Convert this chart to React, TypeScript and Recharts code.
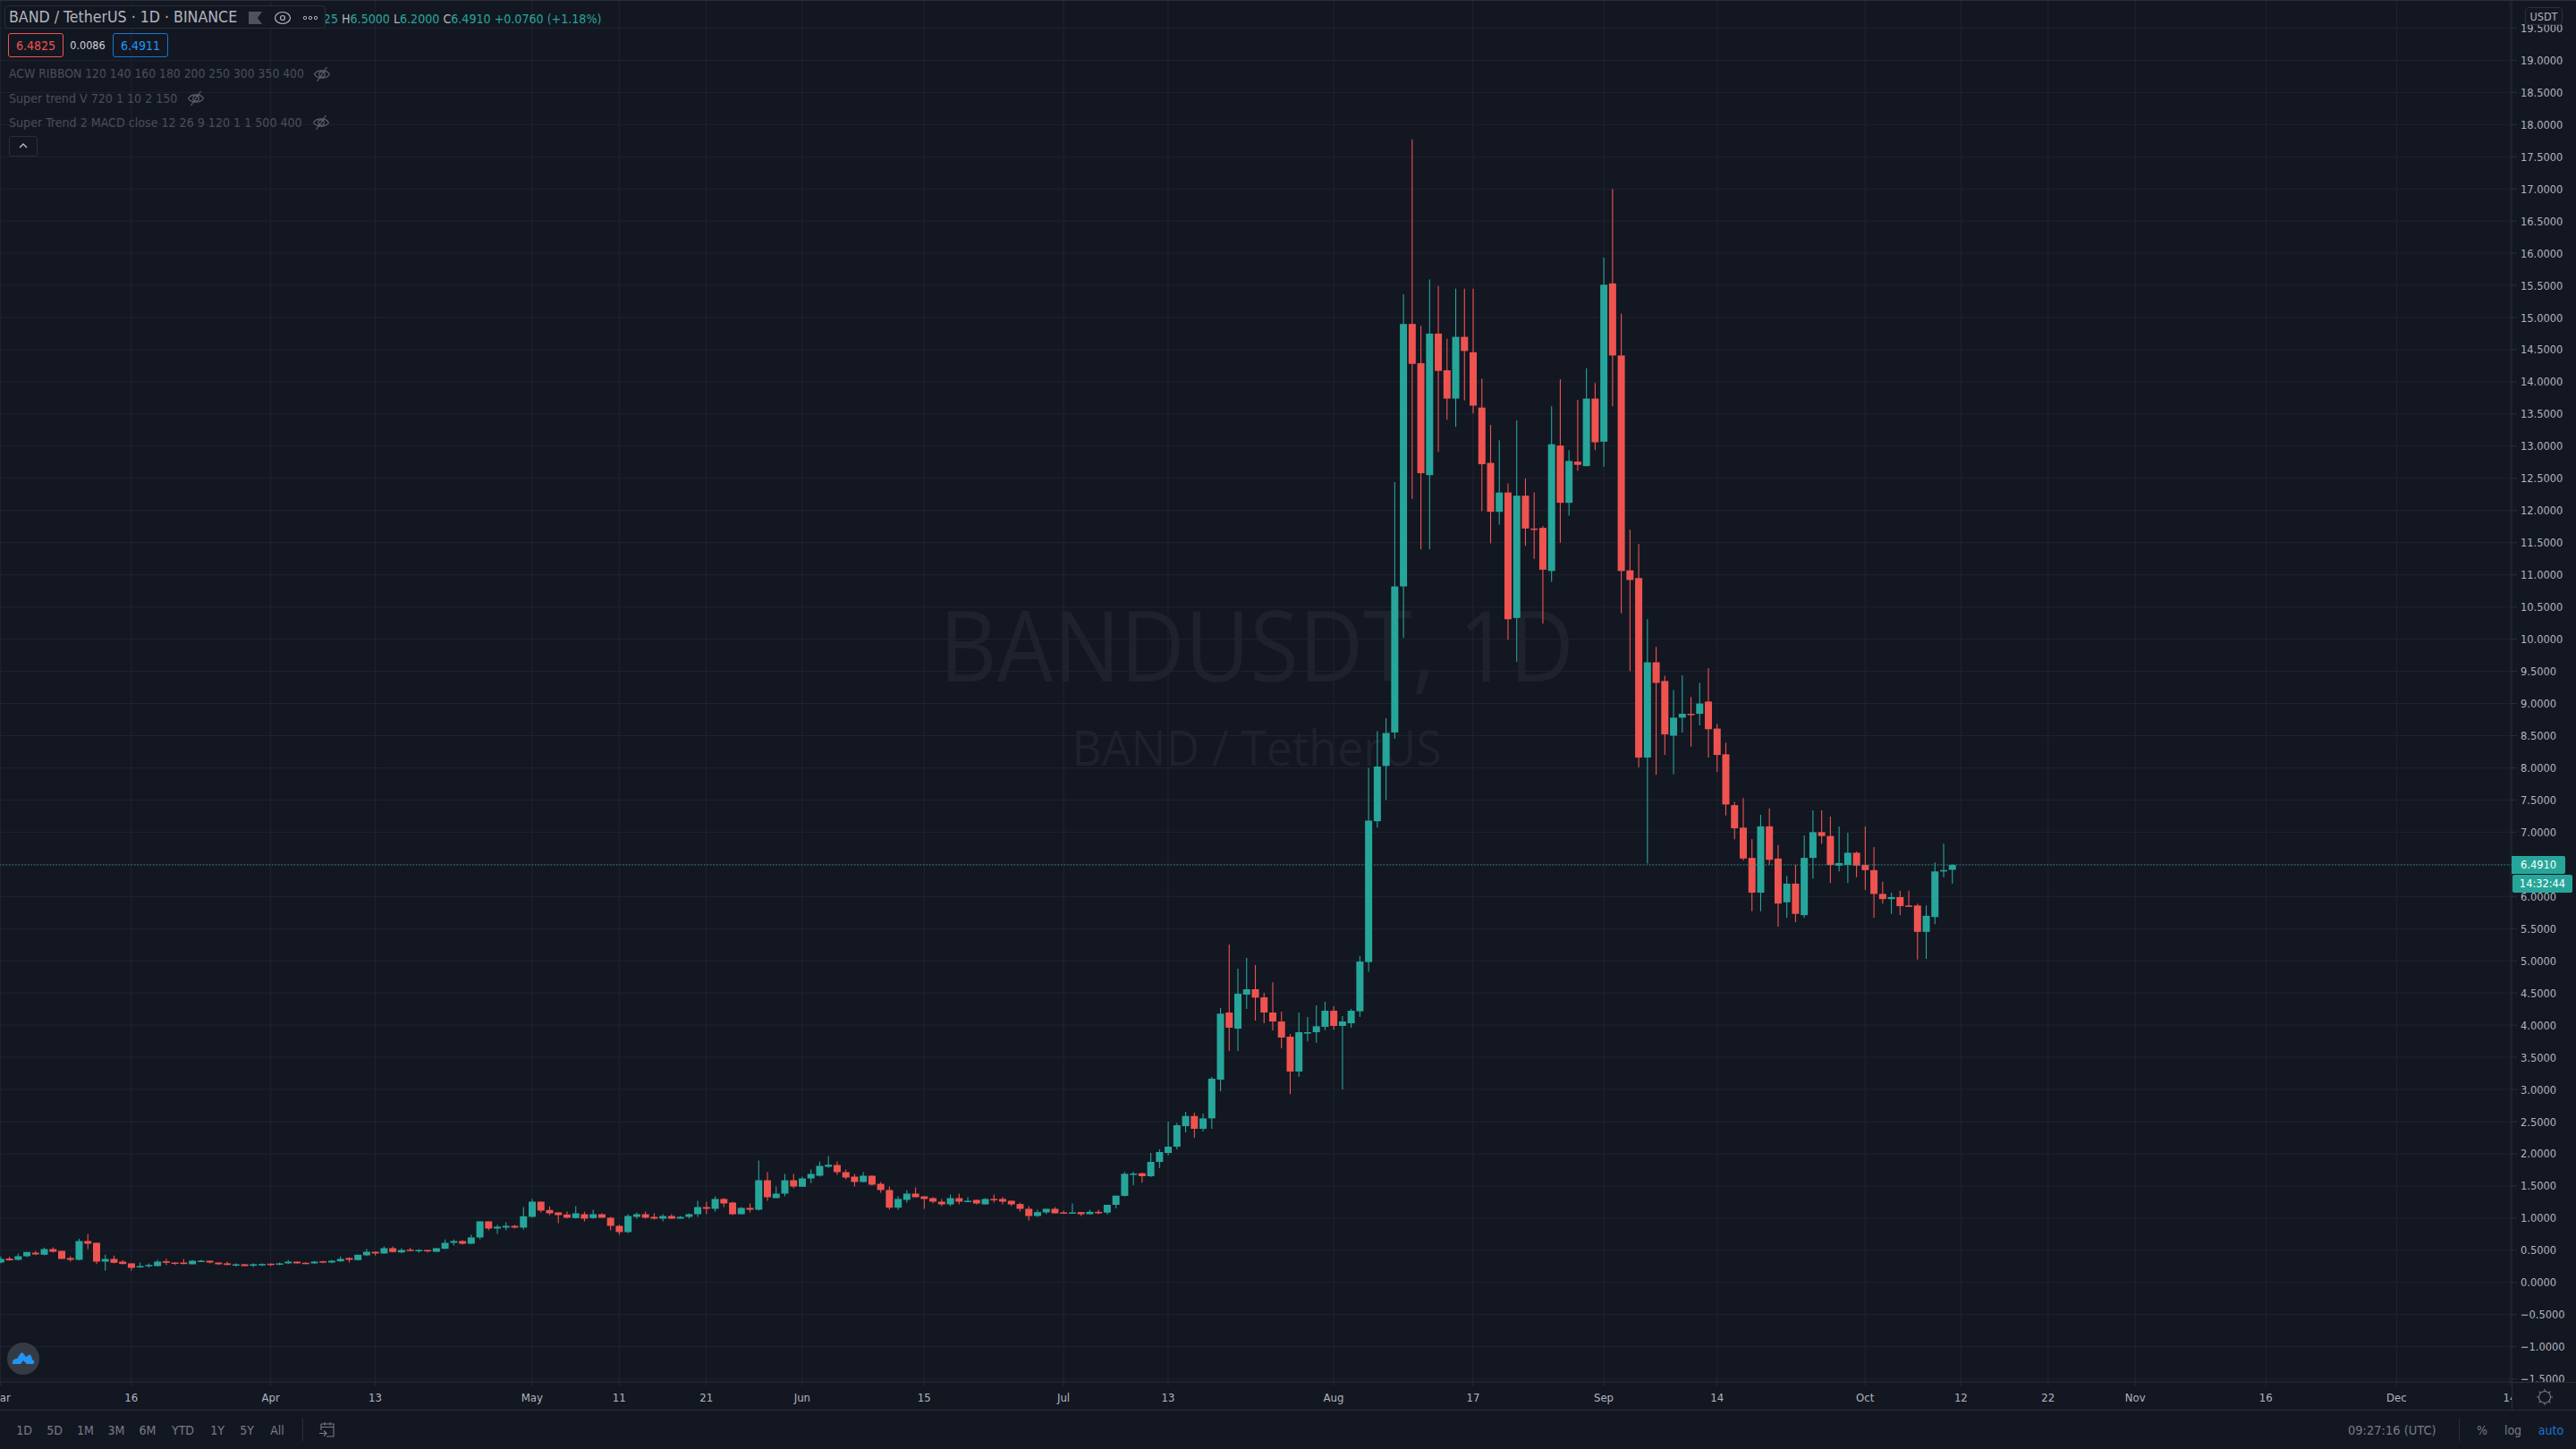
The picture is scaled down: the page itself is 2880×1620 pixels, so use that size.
import React from "react";
import { ComposedChart, Bar, XAxis, YAxis, CartesianGrid, ReferenceLine } from "recharts";

const opens = [
  .31,.371,.352,.408,.463,.431,.519,.491,.38,.352,
  .644,.616,.324,.366,.324,.297,.236,.26,.255,.329,
  .31,.31,.283,.324,.338,.31,.297,.273,.283,.26,
  .273,.292,.283,.297,.324,.306,.297,.329,.31,.329,
  .38,.348,.422,.477,.45,.533,.468,.51,.491,.505,
  .477,.524,.616,.644,.602,.70,.95,.839,.853,.88,
  .853,1.02,1.256,1.126,1.089,1.057,1.001,1.061,1.001,1.061,
  1.006,.88,.783,1.02,1.061,1.02,.992,1.033,.992,1.02,
  1.061,1.172,1.145,1.298,1.242,1.061,1.159,1.131,1.589,1.311,
  1.381,1.589,1.488,1.617,1.659,1.798,1.826,1.715,1.645,1.562,
  1.659,1.534,1.437,1.163,1.284,1.381,1.339,1.311,1.256,1.214,
  1.311,1.256,1.284,1.214,1.298,1.298,1.27,1.219,1.145,1.033,
  1.089,1.145,1.089,1.075,1.094,1.061,1.098,1.086,1.207,1.346,
  1.68,1.698,1.652,1.874,2.013,2.111,2.43,2.588,2.389,2.551,
  3.153,4.196,3.946,4.474,4.558,4.433,4.196,4.057,3.82,3.279,
  3.872,3.89,3.974,4.224,3.988,4.029,4.215,4.98,7.17,8.03,
  8.55,10.82,14.9,14.29,12.55,14.75,14.18,13.74,14.70,14.46,
  13.60,12.74,11.98,12.28,10.33,12.23,11.72,11.73,11.06,13.01,
  12.12,12.76,12.69,13.74,13.07,15.53,14.41,11.07,10.95,8.16,
  9.64,9.35,8.50,8.78,8.84,8.84,9.03,8.61,8.21,7.42,
  7.07,6.60,6.06,7.09,6.59,5.91,6.20,5.71,6.60,7.00,
  6.94,6.48,6.49,6.68,6.49,6.41,6.04,5.96,5.99,5.86,
  5.86,5.45,5.68,6.39,6.415,
];
const highs = [
  .403,.399,.45,.477,.491,.542,.547,.491,.403,.681,
  .755,.616,.431,.417,.348,.297,.31,.297,.352,.366,
  .31,.366,.348,.352,.338,.31,.324,.297,.287,.297,
  .297,.297,.31,.348,.324,.315,.334,.338,.348,.403,
  .389,.431,.519,.477,.561,.561,.533,.538,.519,.505,
  .533,.667,.667,.658,.741,.95,.95,.894,.936,.894,
  1.172,1.298,1.256,1.182,1.089,1.103,1.186,1.098,1.131,1.075,
  1.02,.899,1.061,1.089,1.103,1.075,1.061,1.061,1.033,1.075,
  1.27,1.256,1.339,1.311,1.256,1.172,1.228,1.895,1.715,1.492,
  1.687,1.687,1.645,1.756,1.881,1.965,1.881,1.756,1.687,1.715,
  1.659,1.562,1.492,1.339,1.437,1.478,1.339,1.325,1.298,1.367,
  1.381,1.325,1.284,1.311,1.367,1.325,1.27,1.242,1.186,1.131,
  1.145,1.172,1.117,1.228,1.094,1.131,1.131,1.207,1.35,1.717,
  1.721,1.707,2.013,2.069,2.5,2.481,2.652,2.639,2.625,3.195,
  4.266,5.252,4.878,5.044,4.934,4.502,4.664,4.21,3.862,4.196,
  4.127,4.307,4.363,4.294,4.141,4.252,5.072,8.0,8.57,8.77,
  12.44,15.36,17.77,14.87,15.59,15.49,14.67,15.45,15.45,15.45,
  14.05,13.33,13.09,12.42,13.40,12.50,12.28,11.76,13.62,14.04,
  12.94,13.72,14.21,13.98,15.93,17.0,15.06,11.70,11.48,10.31,
  9.88,9.43,9.21,9.44,9.10,9.32,9.55,8.68,8.39,7.47,
  7.53,6.89,7.27,7.37,6.80,6.32,6.49,6.95,7.34,7.34,
  7.24,7.09,6.99,6.70,7.09,6.77,6.23,6.06,6.09,6.09,
  5.89,5.86,6.53,6.82,6.5,
];
const lows = [
  .301,.343,.343,.394,.426,.422,.468,.366,.324,.343,
  .519,.287,.185,.297,.283,.185,.227,.232,.25,.269,
  .273,.283,.283,.32,.297,.273,.264,.246,.255,.241,
  .255,.255,.269,.287,.297,.287,.287,.301,.301,.32,
  .31,.343,.412,.417,.45,.468,.454,.487,.463,.468,
  .477,.519,.575,.589,.602,.672,.811,.755,.811,.839,
  .825,1.01,1.089,1.047,.922,.996,.992,.95,.992,1.006,
  .811,.741,.769,.992,.992,.978,.95,.987,.992,.992,
  1.02,1.061,1.103,1.172,1.047,1.061,1.089,1.117,1.27,1.311,
  1.339,1.464,1.488,1.543,1.645,1.784,1.673,1.603,1.492,1.557,
  1.506,1.395,1.131,1.131,1.242,1.325,1.145,1.233,1.186,1.186,
  1.214,1.256,1.214,1.214,1.242,1.214,1.186,1.103,.964,1.02,
  1.061,1.075,1.075,1.075,1.033,1.061,1.061,1.058,1.151,1.337,
  1.513,1.55,1.638,1.777,1.976,2.069,2.333,2.25,2.347,2.389,
  2.972,3.598,3.598,4.252,4.071,4.029,3.918,3.64,2.926,3.195,
  3.747,3.728,3.922,3.928,3.0,3.96,4.127,4.83,7.07,7.5,
  8.45,10.02,12.18,11.40,11.40,12.91,13.41,13.30,13.71,13.51,
  11.99,11.49,11.78,9.99,9.65,11.45,11.25,10.24,10.89,11.50,
  11.92,12.62,12.69,12.94,12.68,13.62,10.40,9.50,8.01,6.51,
  7.89,8.20,7.90,8.55,8.33,8.66,8.16,7.94,7.26,6.89,
  6.56,5.77,5.77,6.49,5.53,5.67,5.60,5.67,6.28,6.82,
  6.21,6.39,6.21,6.30,6.10,5.67,5.89,5.73,5.71,5.84,
  5.02,5.03,5.57,6.30,6.2,
];
const closes = [
  .366,.343,.408,.473,.436,.519,.477,.366,.352,.644,
  .602,.324,.366,.306,.287,.227,.255,.273,.324,.306,
  .292,.287,.338,.338,.31,.283,.273,.283,.255,.283,
  .287,.273,.297,.324,.297,.292,.324,.31,.338,.366,
  .352,.431,.477,.45,.533,.473,.505,.491,.505,.491,
  .533,.616,.644,.602,.70,.95,.839,.867,.88,.853,
  1.029,1.256,1.117,1.075,1.047,1.006,1.075,.992,1.061,1.006,
  .88,.783,1.033,1.061,1.006,.992,1.033,.992,1.02,1.061,
  1.172,1.145,1.298,1.228,1.061,1.159,1.131,1.589,1.325,1.381,
  1.589,1.492,1.617,1.687,1.812,1.83,1.715,1.631,1.562,1.659,
  1.52,1.437,1.163,1.298,1.381,1.325,1.298,1.256,1.214,1.311,
  1.256,1.27,1.228,1.298,1.288,1.256,1.214,1.145,1.033,1.094,
  1.145,1.075,1.075,1.089,1.061,1.098,1.075,1.207,1.35,1.689,
  1.693,1.652,1.874,2.027,2.111,2.444,2.588,2.389,2.551,3.167,
  4.178,3.96,4.488,4.558,4.428,4.196,4.057,3.807,3.279,3.89,
  3.89,3.983,4.224,3.988,4.057,4.224,4.989,7.18,8.02,8.54,
  10.82,14.90,14.28,12.58,14.75,14.17,13.74,14.70,14.48,13.63,
  12.72,11.98,12.28,10.31,12.23,11.72,11.70,11.08,13.03,12.12,
  12.77,12.71,13.74,13.06,15.51,14.41,11.06,10.92,8.16,9.64,
  9.32,8.52,8.78,8.84,8.82,9.0,8.60,8.20,7.43,7.06,
  6.59,6.06,7.09,6.57,5.89,6.20,5.73,6.60,7.00,6.94,
  6.49,6.52,6.68,6.48,6.41,6.04,5.96,5.99,5.85,5.85,
  5.45,5.70,6.39,6.41,6.491,
];

const timeTicks = [0, 15, 31, 43, 61, 71, 81, 92, 106, 122, 134, 153, 169, 184, 197, 214, 225, 235, 245, 260, 275, 288];
const timeLabels = ["Mar", "16", "Apr", "13", "May", "11", "21", "Jun", "15", "Jul", "13", "Aug", "17", "Sep", "14", "Oct", "12", "22", "Nov", "16", "Dec", "14"];
const priceTicks = [-1.5, -1, -0.5, 0, 0.5, 1, 1.5, 2, 2.5, 3, 3.5, 4, 4.5, 5, 5.5, 6, 6.5, 7, 7.5, 8, 8.5, 9, 9.5, 10, 10.5, 11, 11.5, 12, 12.5, 13, 13.5, 14, 14.5, 15, 15.5, 16, 16.5, 17, 17.5, 18, 18.5, 19, 19.5];
const rangeButtons = ["1D", "5D", "1M", "3M", "6M", "YTD", "1Y", "5Y", "All"];
const rangeCenters = [27, 61, 95.5, 130, 165, 204.5, 243, 276, 310];
const lastPrice = 6.491;

const candles = opens.map((open, i) => ({
  day: i,
  open,
  high: highs[i],
  low: lows[i],
  close: closes[i],
  range: [lows[i], highs[i]],
}));

const BG = "#131722";
const GRID = "#1f2430";
const BORDER = "#2a2e39";
const UP = "#26a69a";
const DOWN = "#ef5350";
const TEXT = "#b2b5be";
const DIM = "#787b86";
const FONT = '"DejaVu Sans Condensed", "DejaVu Sans", sans-serif';

const Candle = (p: any) => {
  const { x, y, width, height, payload } = p;
  const { open, high, low, close } = payload;
  const k = height / (high - low);
  const cx = x + width / 2;
  const yO = y + (high - open) * k;
  const yC = y + (high - close) * k;
  const top = Math.min(yO, yC);
  const h = Math.max(Math.abs(yO - yC), 1.5);
  const c = close >= open ? UP : DOWN;
  return (
    <g>
      <line x1={cx} x2={cx} y1={y} y2={y + height} stroke={c} strokeWidth={1.1} />
      <rect x={x} y={top} width={width} height={h} fill={c} />
    </g>
  );
};

const T = ({ x, y, c = TEXT, s = 13, anchor = "left", children, style }: any) => (
  <div
    style={{
      position: "absolute",
      left: x,
      top: y,
      transform: `translate(${anchor === "center" ? "-50%" : anchor === "right" ? "-100%" : "0"}, -50%)`,
      color: c,
      fontSize: s,
      fontFamily: FONT,
      whiteSpace: "pre",
      lineHeight: 1,
      ...style,
    }}
  >
    {children}
  </div>
);

const Box = ({ x, y, w, h, border = BORDER, bg = BG, r = 3 }: any) => (
  <div
    style={{
      position: "absolute",
      left: x,
      top: y,
      width: w,
      height: h,
      boxSizing: "border-box",
      border: `1px solid ${border}`,
      background: bg,
      borderRadius: r,
    }}
  />
);

const EyeOff = ({ x, y }: any) => (
  <svg style={{ position: "absolute", left: x - 10, top: y - 10 }} width={20} height={20} viewBox="0 0 20 20" fill="none" stroke="#5d606b" strokeWidth={1.2}>
    <path d="M1.5 10c3.2-5.5 13.8-5.5 17 0-3.2 5.5-13.8 5.5-17 0z" />
    <circle cx={10} cy={10} r={3.2} />
    <path d="M15.5 2L4.5 18" />
  </svg>
);

export default function App() {
  return (
    <div style={{ position: "absolute", left: 0, top: 0, width: 2880, height: 1620, background: BG, overflow: "hidden" }}>
      {/* watermark */}
      <div style={{ position: "absolute", left: 1405, top: 719, transform: "translate(-50%,-50%) scaleX(0.905)", color: "#1e222c", fontFamily: '"Open Sans", sans-serif', fontSize: 110, whiteSpace: "pre", lineHeight: 1 }}>
        BANDUSDT, 1D
      </div>
      <div style={{ position: "absolute", left: 1405, top: 835, transform: "translate(-50%,-50%) scaleX(0.96)", color: "#1e222c", fontFamily: '"Open Sans", sans-serif', fontSize: 54, whiteSpace: "pre", lineHeight: 1 }}>
        BAND / TetherUS
      </div>

      <div style={{ position: "absolute", left: 0, top: 0 }}>
        <ComposedChart width={2880} height={1620} data={candles} margin={{ top: 0, right: 0, bottom: 44, left: 0 }}>
          <CartesianGrid stroke={GRID} strokeWidth={1} horizontalValues={priceTicks} verticalValues={timeTicks} />
          <XAxis
            dataKey="day"
            type="number"
            domain={[-0.07, 288.2]}
            allowDataOverflow
            ticks={timeTicks}
            interval={0}
            height={31}
            tickFormatter={(v: number) => timeLabels[timeTicks.indexOf(v)]}
            tick={{ fill: TEXT, fontSize: 13, fontFamily: FONT }}
            tickSize={4}
            tickMargin={9}
            axisLine={{ stroke: BORDER }}
            tickLine={{ stroke: BORDER }}
          />
          <YAxis
            orientation="right"
            type="number"
            domain={[-1.546, 19.936]}
            allowDataOverflow
            ticks={priceTicks}
            interval={0}
            width={72}
            tickFormatter={(v: number) => (v < 0 ? "\u2212" + Math.abs(v).toFixed(4) : v.toFixed(4))}
            tick={{ fill: TEXT, fontSize: 12.7, fontFamily: FONT }}
            tickSize={6}
            tickMargin={4}
            axisLine={{ stroke: BORDER }}
            tickLine={{ stroke: BORDER }}
          />
          <ReferenceLine y={lastPrice} stroke={UP} strokeOpacity={0.85} strokeDasharray="1.5 2" />
          <Bar dataKey="range" barSize={8} isAnimationActive={false} shape={<Candle />} />
        </ComposedChart>
      </div>

      {/* top border */}
      <div style={{ position: "absolute", left: 0, top: 0, width: 2880, height: 1, background: BORDER }} />

      {/* legend */}
      <T x={382} y={21} s={14.1} anchor="right">
        O<span style={{ color: UP }}>6.4825 </span>
      </T>
      <T x={382} y={21} s={14.1}>
        H<span style={{ color: UP }}>6.5000</span> L<span style={{ color: UP }}>6.2000</span> C<span style={{ color: UP }}>6.4910 +0.0760 (+1.18%)</span>
      </T>
      <Box x={5} y={6} w={359} h={26} r={4} />
      <T x={10} y={20} s={17.6}>BAND / TetherUS · 1D · BINANCE</T>
      <svg style={{ position: "absolute", left: 278, top: 13 }} width={15} height={14}>
        <path d="M0 0H15L10 7L15 14H0Z" fill="#50535e" />
      </svg>
      <svg style={{ position: "absolute", left: 306, top: 10 }} width={20} height={20} fill="none" stroke={TEXT} strokeWidth={1.2}>
        <ellipse cx={10} cy={10} rx={8.5} ry={6.5} />
        <circle cx={10} cy={10} r={2.5} />
      </svg>
      <svg style={{ position: "absolute", left: 338, top: 16 }} width={18} height={8} fill="none" stroke={TEXT} strokeWidth={1}>
        <circle cx={3} cy={4} r={1.7} />
        <circle cx={9} cy={4} r={1.7} />
        <circle cx={15} cy={4} r={1.7} />
      </svg>

      <Box x={9} y={37} w={62} h={27} border={DOWN} bg="transparent" />
      <T x={40} y={51} c={DOWN} s={14} anchor="center">6.4825</T>
      <T x={98} y={51} c="#d1d4dc" s={12.5} anchor="center">0.0086</T>
      <Box x={126} y={37} w={62} h={27} border="#1976d2" bg="transparent" />
      <T x={157} y={51} c="#2196f3" s={14} anchor="center">6.4911</T>

      <T x={10} y={83} c="#4a4e59" s={13.8}>ACW RIBBON 120 140 160 180 200 250 300 350 400</T>
      <EyeOff x={360} y={83} />
      <T x={10} y={110} c="#4a4e59" s={14.1}>Super trend V 720 1 10 2 150</T>
      <EyeOff x={219} y={110} />
      <T x={10} y={137} c="#4a4e59" s={14.1}>Super Trend 2 MACD close 12 26 9 120 1 1 500 400</T>
      <EyeOff x={359} y={137} />
      <Box x={10} y={152} w={32} h={23} />
      <svg style={{ position: "absolute", left: 20, top: 159 }} width={12} height={8} fill="none" stroke={TEXT} strokeWidth={1.5}>
        <path d="M2 6L6 2L10 6" />
      </svg>

      {/* USDT unit box */}
      <Box x={2823} y={8} w={42} h={20} r={4} />
      <T x={2844} y={19} s={12.5} anchor="center">USDT</T>

      {/* last price labels */}
      <div style={{ position: "absolute", left: 2808, top: 957, width: 60, height: 20, background: UP, borderRadius: "0 2px 2px 0" }} />
      <T x={2838} y={967} c="#ffffff" s={12.7} anchor="center">6.4910</T>
      <div style={{ position: "absolute", left: 2809, top: 978, width: 67, height: 20, background: UP, borderRadius: 2 }} />
      <T x={2842.5} y={988} c="#ffffff" s={12.7} anchor="center">14:32:44</T>

      {/* floating logo */}
      <svg style={{ position: "absolute", left: 8, top: 1501 }} width={36} height={36}>
        <circle cx={18} cy={18} r={18} fill="#363a45" />
        <path d="M6 24c-1-4 2-6 5-6l4-6c1-1 2-1 3 0l3 4 3-2c1-1 2 0 3 1l1 4c3 1 3 5 0 5h-6l-4-4-3 4h-9z" fill="#2196f3" />
      </svg>

      {/* clipping strip: time axis corner */}
      <div style={{ position: "absolute", left: 2808, top: 1545, width: 72, height: 31, background: BG, borderLeft: `1px solid ${BORDER}`, borderTop: `1px solid ${BORDER}`, boxSizing: "border-box" }} />
      <svg style={{ position: "absolute", left: 2835, top: 1552 }} width={20} height={20} fill="none" stroke={DIM} strokeWidth={1.1}>
        <circle cx={10} cy={10} r={6.5} />
        <path d="M10 1V3.5M10 16.5V19M1 10H3.5M16.5 10H19M3.6 3.6L5.4 5.4M14.6 14.6L16.4 16.4M16.4 3.6L14.6 5.4M5.4 14.6L3.6 16.4" />
      </svg>

      {/* bottom toolbar */}
      <div style={{ position: "absolute", left: 0, top: 1576, width: 2880, height: 44, background: BG, borderTop: `1px solid ${BORDER}`, boxSizing: "border-box" }} />
      {rangeButtons.map((b, i) => (
        <T key={b} x={rangeCenters[i]} y={1599} c={DIM} s={14} anchor="center">{b}</T>
      ))}
      <div style={{ position: "absolute", left: 338, top: 1586, width: 1, height: 25, background: BORDER }} />
      <svg style={{ position: "absolute", left: 356, top: 1589 }} width={20} height={20} fill="none" stroke={DIM} strokeWidth={1.1}>
        <path d="M3 3H17V17H9M3 3V10M3 6.5H17M7 1V4.5M13 1V4.5M1 13.5H9M6 10.5L9 13.5L6 16.5" />
      </svg>
      <T x={2625} y={1599} c={DIM} s={14.5}>09:27:16 (UTC)</T>
      <div style={{ position: "absolute", left: 2749, top: 1586, width: 1, height: 25, background: BORDER }} />
      <T x={2775} y={1599} c={DIM} s={14} anchor="center">%</T>
      <T x={2809.5} y={1599} c={DIM} s={14} anchor="center">log</T>
      <T x={2852} y={1599} c="#1976d2" s={14} anchor="center">auto</T>
    </div>
  );
}
